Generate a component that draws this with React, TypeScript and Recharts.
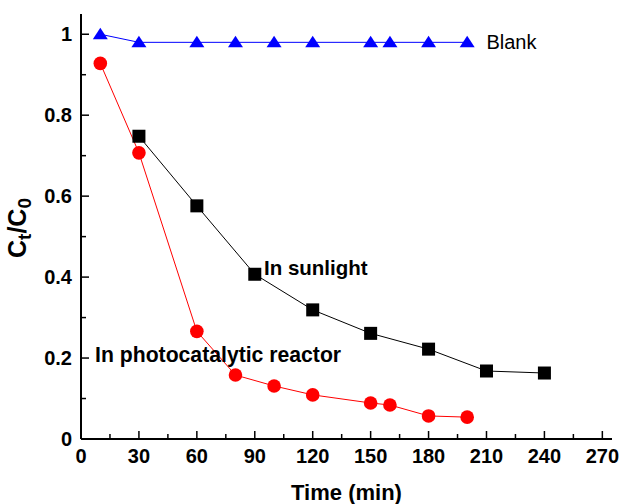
import React from 'react'
import { LineChart, Line, XAxis, YAxis, ReferenceDot } from 'recharts'

const blankTime = [10, 30, 60, 80, 100, 120, 150, 160, 180, 200]
const blankRatio = [1.0, 0.98, 0.98, 0.98, 0.98, 0.98, 0.98, 0.98, 0.98, 0.98]

const reactorTime = [10, 30, 60, 80, 100, 120, 150, 160, 180, 200]
const reactorRatio = [0.928, 0.707, 0.266, 0.158, 0.131, 0.109, 0.089, 0.084, 0.057, 0.054]

const sunTime = [30, 60, 90, 120, 150, 180, 210, 240]
const sunRatio = [0.748, 0.576, 0.407, 0.319, 0.261, 0.222, 0.168, 0.163]

const xTicks = [0, 15, 30, 45, 60, 75, 90, 105, 120, 135, 150, 165, 180, 195, 210, 225, 240, 255, 270]
const yTicks = [0, 0.1, 0.2, 0.3, 0.4, 0.5, 0.6, 0.7, 0.8, 0.9, 1.0]

const blankData = blankTime.map((t, i) => ({ t, v: blankRatio[i] }))
const reactorData = reactorTime.map((t, i) => ({ t, v: reactorRatio[i] }))
const sunData = sunTime.map((t, i) => ({ t, v: sunRatio[i] }))

const FONT = '"Liberation Sans", Arial, sans-serif'

const XTick = (props: any) => {
  const { x, y, payload } = props
  const major = payload.value % 30 === 0
  return (
    <g>
      <line x1={x} y1={y} x2={x} y2={y - (major ? 8 : 5)} stroke="#000" strokeWidth={1.5} />
      {major && (
        <text x={x} y={y + 24} textAnchor="middle" fontFamily={FONT} fontWeight="bold" fontSize={20} fill="#000">
          {payload.value}
        </text>
      )}
    </g>
  )
}

const YTick = (props: any) => {
  const { x, y, payload } = props
  const major = Math.round(payload.value * 10) % 2 === 0
  return (
    <g>
      <line x1={x} y1={y} x2={x + (major ? 8 : 5)} y2={y} stroke="#000" strokeWidth={1.5} />
      {major && (
        <text x={x - 9} y={y + 7} textAnchor="end" fontFamily={FONT} fontWeight="bold" fontSize={20} fill="#000">
          {String(payload.value)}
        </text>
      )}
    </g>
  )
}

const Triangle = (props: any) => {
  const { cx, cy, index } = props
  return <path key={`tri-${index}`} d={`M${cx},${cy - 6.5} L${cx + 7.5},${cy + 5} L${cx - 7.5},${cy + 5} Z`} fill="#0000ff" />
}

const Square = (props: any) => {
  const { cx, cy, index } = props
  return <rect key={`sq-${index}`} x={cx - 6.5} y={cy - 6.5} width={13} height={13} fill="#000" />
}

const Circle = (props: any) => {
  const { cx, cy, index } = props
  return <circle key={`ci-${index}`} cx={cx} cy={cy} r={6.8} fill="#ff0000" />
}

const textLabel = (text: string, size: number, bold: boolean) => (props: any) => {
  const { viewBox } = props
  return (
    <text x={viewBox.x} y={viewBox.y} fontFamily={FONT} fontWeight={bold ? 'bold' : 'normal'} fontSize={size} fill="#000">
      {text}
    </text>
  )
}

const YLabel = () => (
  <text transform="translate(26,228) rotate(-90)" textAnchor="middle" fontFamily={FONT} fontWeight="bold" fontSize={25} fill="#000">
    <tspan>C</tspan>
    <tspan fontSize={19} dy={5}>t</tspan>
    <tspan dy={-5}>/C</tspan>
    <tspan fontSize={19} dy={5}>0</tspan>
  </text>
)

const App = () => {
  return (
    <div style={{ position: 'absolute', left: 0, top: 0, width: 622, height: 504, background: '#fff' }}>
      <LineChart width={622} height={504} data={[]} margin={{ top: 14, right: 10, bottom: 0, left: 0 }}>
        <XAxis
          dataKey="t"
          type="number"
          domain={[0, 275]}
          ticks={xTicks}
          interval={0}
          tickSize={0}
          tickMargin={0}
          tickLine={false}
          tick={<XTick />}
          height={65}
          axisLine={{ stroke: '#000', strokeWidth: 2 }}
          allowDataOverflow
          label={{
            value: 'Time (min)',
            position: 'insideBottom',
            offset: 4,
            fontFamily: FONT,
            fontWeight: 'bold',
            fontSize: 22,
            fill: '#000',
          }}
        />
        <XAxis
          xAxisId="top"
          orientation="top"
          type="number"
          domain={[0, 275]}
          height={0}
          tick={false}
          tickLine={false}
          axisLine={{ stroke: '#000', strokeWidth: 2 }}
        />
        <YAxis
          type="number"
          domain={[0, 1.05]}
          ticks={yTicks}
          interval={0}
          tickSize={0}
          tickMargin={0}
          tickLine={false}
          tick={<YTick />}
          width={81}
          axisLine={{ stroke: '#000', strokeWidth: 2 }}
          allowDataOverflow
          label={<YLabel />}
        />
        <YAxis
          yAxisId="right"
          orientation="right"
          type="number"
          domain={[0, 1.05]}
          width={0}
          tick={false}
          tickLine={false}
          axisLine={{ stroke: '#000', strokeWidth: 2 }}
        />
        <Line
          data={blankData}
          dataKey="v"
          stroke="#0000ff"
          strokeWidth={1}
          dot={Triangle}
          activeDot={false}
          isAnimationActive={false}
        />
        <Line
          data={sunData}
          dataKey="v"
          stroke="#000"
          strokeWidth={1}
          dot={Square}
          activeDot={false}
          isAnimationActive={false}
        />
        <Line
          data={reactorData}
          dataKey="v"
          stroke="#ff0000"
          strokeWidth={1}
          dot={Circle}
          activeDot={false}
          isAnimationActive={false}
        />
        <ReferenceDot x={210.5} y={0.96} r={1} fill="none" stroke="none" label={textLabel('Blank', 20, false)} />
        <ReferenceDot x={95.3} y={0.4025} r={1} fill="none" stroke="none" label={textLabel('In sunlight', 20.5, true)} />
        <ReferenceDot x={7.8} y={0.1877} r={1} fill="none" stroke="none" label={textLabel('In photocatalytic reactor', 21.2, true)} />
      </LineChart>
    </div>
  )
}

export default App
